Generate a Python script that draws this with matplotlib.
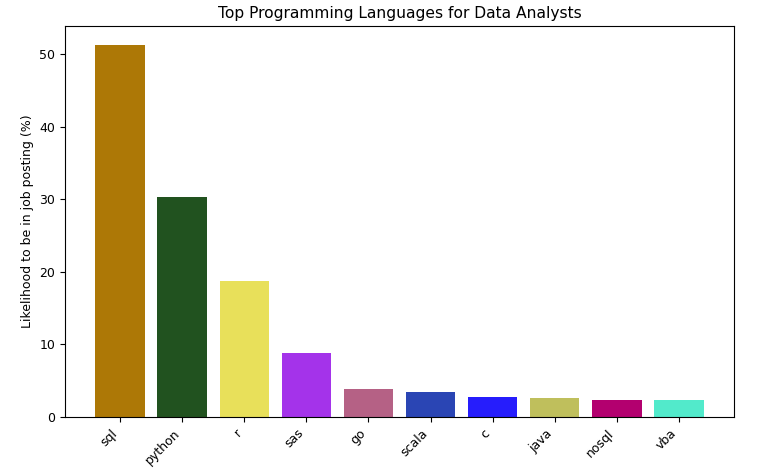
import matplotlib
matplotlib.use("Agg")
import matplotlib.pyplot as plt

languages = ["sql", "python", "r", "sas", "go", "scala", "c", "java", "nosql", "vba"]
likelihood = [51.3, 30.3, 18.7, 8.8, 3.8, 3.5, 2.8, 2.65, 2.35, 2.35]
colors = ["#AD7806", "#21521F", "#E8E05A", "#A433EA", "#B56185",
          "#2A45B4", "#261DFC", "#BFBF5C", "#B3006F", "#52EACB"]

fig = plt.figure(figsize=(7.67, 4.72), dpi=100)
ax = fig.add_axes([65/767, 1-417/472, (734-65)/767, (417-26)/472])
ax.bar(languages, likelihood, color=colors)
ax.set_title("Top Programming Languages for Data Analysts", fontsize=11.2)
ax.set_ylabel("Likelihood to be in job posting (%)", fontsize=9)
ax.tick_params(labelsize=9)
plt.setp(ax.get_xticklabels(), rotation=45, ha="right")
fig.savefig("out.png", dpi=100)
